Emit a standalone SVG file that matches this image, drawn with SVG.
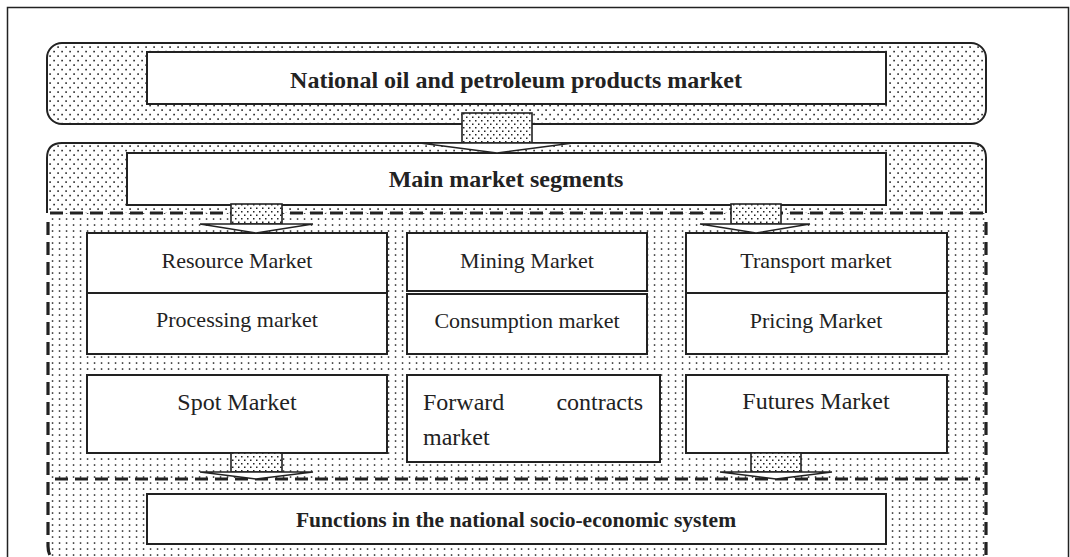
<svg xmlns="http://www.w3.org/2000/svg" width="1070" height="557" viewBox="0 0 1070 557">
  <defs>
    <pattern id="dotsDense" width="8" height="9" patternUnits="userSpaceOnUse">
      <rect width="8" height="9" fill="#fff"/>
      <rect x="1.3" y="1.3" width="1.6" height="1.6" fill="#222"/>
      <rect x="5.3" y="5.8" width="1.6" height="1.6" fill="#222"/>
    </pattern>
    <pattern id="dotsSparse" width="7" height="6" patternUnits="userSpaceOnUse">
      <rect width="7" height="6" fill="#fff"/>
      <rect x="2.8" y="2.3" width="1.5" height="1.5" fill="#222"/>
    </pattern>
    <pattern id="dotsStem" width="6" height="7" patternUnits="userSpaceOnUse">
      <rect width="6" height="7" fill="#fff"/>
      <rect x="1" y="1" width="1.5" height="1.5" fill="#222"/>
      <rect x="4" y="4.5" width="1.5" height="1.5" fill="#222"/>
    </pattern>
    <style>
      .box { fill: #fff; stroke: #222; stroke-width: 2; }
      .panel { stroke: #222; stroke-width: 2; }
      .dash { fill: none; stroke: #222; stroke-width: 3.2; stroke-dasharray: 13 7; }
      .stem { fill: url(#dotsStem); stroke: #222; stroke-width: 1.6; }
      .head { fill: #fff; stroke: #222; stroke-width: 1.4; stroke-linejoin: miter; }
      .t { font-family: "Liberation Serif", "Times New Roman", serif; fill: #222; text-anchor: middle; }
      .b { font-weight: bold; }
      .s22 { font-size: 22px; }
      .s24 { font-size: 24px; }
    </style>
  </defs>

  <rect width="1070" height="557" fill="#fff"/>

  <!-- outer frame -->
  <path d="M7.5,560 V7.5 H1068.5 V560" fill="none" stroke="#222" stroke-width="1.5"/>

  <!-- top panel -->
  <rect x="47" y="43" width="939" height="81" rx="15" class="panel" fill="url(#dotsDense)"/>

  <!-- segments panel: dense upper band, sparse body -->
  <g id="segments-panel">
    <path d="M47,213 V158 Q47,143 62,143 H971 Q986,143 986,158 V213 Z" fill="url(#dotsDense)"/>
    <path d="M47,213 V548 Q47,565 64,565 H969 Q986,565 986,548 V213 Z" fill="url(#dotsSparse)"/>
    <path d="M47,213 V158 Q47,143 62,143 H971 Q986,143 986,158 V213" class="panel" fill="none"/>
    <path d="M50,213 H986" class="dash"/>
    <path d="M48,222 V546 Q48,562 64,562" class="dash"/>
    <path d="M986,222 V562" class="dash"/>
  </g>

  <!-- nodes -->
  <g id="national-market">
    <rect x="147" y="52" width="739" height="52" class="box"/>
    <text x="516" y="88" class="t b s24">National oil and petroleum products market</text>
  </g>

  <g id="main-segments">
    <rect x="127" y="153" width="759" height="52" class="box"/>
    <text x="506" y="187" class="t b s24">Main market segments</text>
  </g>

  <g id="resource-market">
    <rect x="87" y="233" width="300" height="60" class="box"/>
    <text x="237" y="268" class="t s22">Resource Market</text>
  </g>
  <g id="processing-market">
    <rect x="87" y="293" width="300" height="61" class="box"/>
    <text x="237" y="327" class="t s22">Processing market</text>
  </g>

  <g id="mining-market">
    <rect x="407" y="233" width="240" height="58" class="box"/>
    <text x="527" y="268" class="t s22">Mining Market</text>
  </g>
  <g id="consumption-market">
    <rect x="407" y="294" width="240" height="60" class="box"/>
    <text x="527" y="328" class="t s22">Consumption market</text>
  </g>

  <g id="transport-market">
    <rect x="686" y="233" width="261" height="60" class="box"/>
    <text x="816" y="268" class="t s22">Transport market</text>
  </g>
  <g id="pricing-market">
    <rect x="686" y="293" width="261" height="61" class="box"/>
    <text x="816" y="328" class="t s22">Pricing Market</text>
  </g>

  <g id="spot-market">
    <rect x="87" y="375" width="300" height="78" class="box"/>
    <text x="237" y="410" class="t s24">Spot Market</text>
  </g>

  <g id="forward-market">
    <rect x="407" y="375" width="253" height="87" class="box"/>
    <text x="423" y="410" class="t s24" style="text-anchor:start">Forward</text>
    <text x="643" y="410" class="t s24" style="text-anchor:end">contracts</text>
    <text x="423" y="445" class="t s24" style="text-anchor:start">market</text>
  </g>

  <g id="futures-market">
    <rect x="686" y="375" width="261" height="78" class="box"/>
    <text x="816" y="409" class="t s24">Futures Market</text>
  </g>

  <!-- divider above the functions block -->
  <path d="M55,479 H980" class="dash"/>

  <g id="functions">
    <rect x="147" y="494" width="739" height="50" class="box"/>
    <text x="516" y="527" class="t b" style="font-size:21.5px">Functions in the national socio-economic system</text>
  </g>

  <!-- connectors: block arrows -->
  <g id="connectors">
    <!-- national market to main segments -->
    <rect x="462" y="113" width="70" height="30" class="stem"/>
    <path d="M420,143 H573 L497,153 Z" class="head"/>

    <!-- main segments to left column -->
    <rect x="231" y="204" width="51" height="20" class="stem"/>
    <path d="M200,224 H313 L256,233 Z" class="head"/>

    <!-- main segments to right column -->
    <rect x="731" y="204" width="50" height="20" class="stem"/>
    <path d="M700,224 H810 L756,233 Z" class="head"/>

    <!-- spot market to functions -->
    <rect x="231" y="453" width="51" height="19" class="stem"/>
    <path d="M200,472 H313 L256,479 Z" class="head"/>

    <!-- futures market to functions -->
    <rect x="751" y="453" width="50" height="19" class="stem"/>
    <path d="M720,472 H832 L776,479 Z" class="head"/>
  </g>
</svg>
